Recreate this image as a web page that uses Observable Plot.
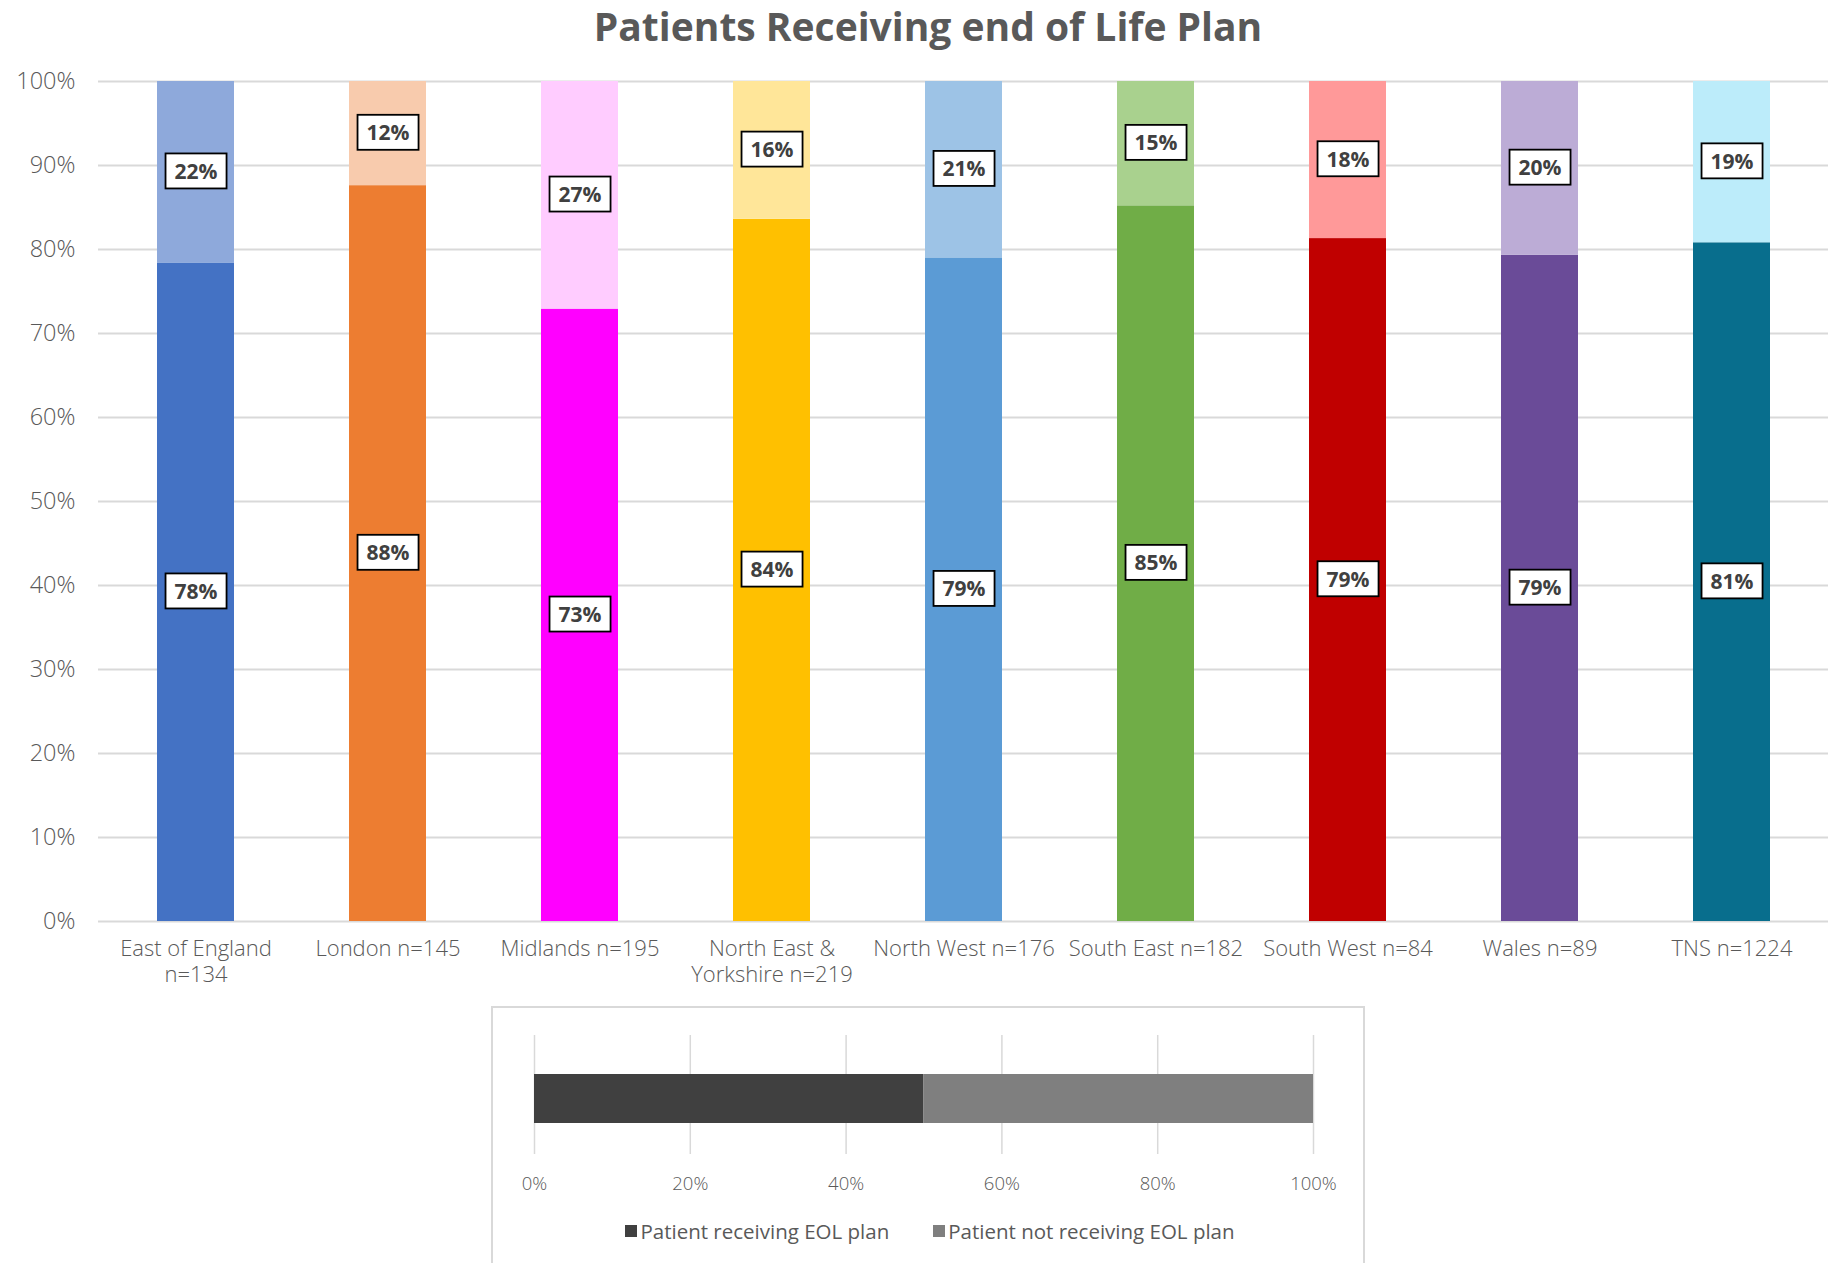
<!DOCTYPE html>
<html><head><meta charset="utf-8">
<script src="https://cdn.jsdelivr.net/npm/d3@7"></script>
<script src="https://cdn.jsdelivr.net/npm/@observablehq/plot@0.6"></script>
<style>
body{margin:0;background:#fff;width:1828px;height:1263px;overflow:hidden;position:relative;font-family:"Open Sans",sans-serif;}
#title{height:60px;line-height:52px;text-align:center;font-size:39px;font-weight:700;color:#595959;padding-left:28px;box-sizing:border-box;}
#main{height:940px;}
#panel{position:absolute;left:491px;top:1006px;width:874px;height:300px;border:2px solid #d9d9d9;box-sizing:border-box;}
#legend{display:flex;justify-content:center;gap:44px;margin-top:13px;font-size:20.5px;color:#595959;padding-left:4px;}
#legend .item{display:flex;align-items:center;}
#legend .sw{width:12px;height:12px;margin-right:3px;display:inline-block;}
</style></head><body>
<div id="title">Patients Receiving end of Life Plan</div>
<div id="main"></div>
<div id="panel"><div id="mini"></div><div id="legend"></div></div>
<script>
// ---- data ----
const xLabels = ["East of England\nn=134", "London n=145", "Midlands n=195", "North East &\nYorkshire n=219", "North West n=176", "South East n=182", "South West n=84", "Wales n=89", "TNS n=1224"];
const receiving = [78.4, 87.6, 72.9, 83.6, 79.0, 85.2, 81.3, 79.3, 80.8];
const notReceiving = [21.6, 12.4, 27.1, 16.4, 21.0, 14.8, 18.7, 20.7, 19.2];
const receivingText = ["78%", "88%", "73%", "84%", "79%", "85%", "79%", "79%", "81%"];
const notReceivingText = ["22%", "12%", "27%", "16%", "21%", "15%", "18%", "20%", "19%"];
const darkColors = ["#4472C4", "#ED7D31", "#FF00FF", "#FFC000", "#5B9BD5", "#70AD47", "#C00000", "#6A4B98", "#086E8D"];
const lightColors = ["#8EA9DB", "#F8CBAD", "#FFCCFF", "#FFE699", "#9DC3E6", "#A9D18E", "#FF9999", "#BCACD6", "#BCECFA"];
const yTicks = [0, 10, 20, 30, 40, 50, 60, 70, 80, 90, 100];

const legendKeys = ["Patient receiving EOL plan", "Patient not receiving EOL plan"];
const legendValues = [50, 50];
const legendColors = ["#404040", "#7F7F7F"];
const miniTicks = [0, 20, 40, 60, 80, 100];

// ---- main chart ----
const rows = xLabels.map((label, i) => ({
  label, rec: receiving[i], not: notReceiving[i],
  c1: darkColors[i], c2: lightColors[i],
  t1: receivingText[i], t2: notReceivingText[i]
}));

const main = Plot.plot({
  width: 1828, height: 940,
  marginTop: 21, marginBottom: 79, marginLeft: 98, marginRight: 0,
  style: {fontFamily: '"Open Sans", sans-serif', fontSize: "22px", color: "#595959", background: "#fff"},
  x: {domain: xLabels, paddingInner: 0.6, paddingOuter: 0.3, label: null},
  y: {domain: [0, 100], label: null},
  color: {type: "identity"},
  marks: [
    Plot.ruleY(yTicks, {stroke: "#d9d9d9", strokeWidth: 2}),
    Plot.barY(rows, {x: "label", y1: 0, y2: "rec", fill: "c1"}),
    Plot.barY(rows, {x: "label", y1: "rec", y2: d => d.rec + d.not, fill: "c2"}),
    Plot.axisY({ticks: yTicks, tickFormat: d => d + "%", tickSize: 0, tickPadding: 23, fontSize: 23.5, fontWeight: 300, label: null, fill: "#595959"}),
    Plot.axisX({tickSize: 0, tickPadding: 15, fontSize: 22, fontWeight: 300, lineHeight: 1.22, label: null, fill: "#595959"}),
    Plot.text(rows, {x: "label", y: d => d.rec / 2, text: "t1", fontSize: 21, fontWeight: "bold", fill: "#404040"}),
    Plot.text(rows, {x: "label", y: d => d.rec + d.not / 2, text: "t2", fontSize: 21, fontWeight: "bold", fill: "#404040"})
  ]
});
document.getElementById("main").appendChild(main);

// boxes behind the data labels
const textGroups = main.querySelectorAll('g[aria-label="text"]');
textGroups.forEach(g => {
  g.querySelectorAll("text").forEach(t => {
    const bb = t.getBBox();
    const cx = bb.x + bb.width / 2, cy = bb.y + bb.height / 2;
    const w = bb.width + 18, h = 35;
    const r = document.createElementNS("http://www.w3.org/2000/svg", "rect");
    r.setAttribute("x", cx - w / 2);
    r.setAttribute("y", cy - h / 2);
    r.setAttribute("width", w);
    r.setAttribute("height", h);
    r.setAttribute("fill", "#fff");
    r.setAttribute("stroke", "#000");
    r.setAttribute("stroke-width", "1.8");
    if (t.getAttribute("transform")) r.setAttribute("transform", t.getAttribute("transform"));
    g.insertBefore(r, t);
  });
});

// ---- mini chart in panel ----
const miniRows = legendKeys.map((k, i) => ({k, v: legendValues[i], c: legendColors[i]}));
const mini = Plot.plot({
  width: 870, height: 196,
  marginTop: 27, marginBottom: 50, marginLeft: 41, marginRight: 50,
  style: {fontFamily: '"Open Sans", sans-serif', fontSize: "18px", color: "#595959", background: "#fff"},
  x: {domain: [0, 100], label: null},
  color: {type: "identity"},
  marks: [
    Plot.ruleX(miniTicks, {stroke: "#d9d9d9", strokeWidth: 1.5}),
    Plot.barX(miniRows, Plot.stackX({x: "v", fill: "c", insetTop: 39, insetBottom: 31})),
    Plot.axisX({ticks: miniTicks, tickFormat: d => d + "%", tickSize: 0, tickPadding: 22, fontSize: 18.5, fontWeight: 300, label: null, fill: "#595959"})
  ]
});
document.getElementById("mini").appendChild(mini);

const leg = d3.select("#legend");
legendKeys.forEach((k, i) => {
  const it = leg.append("div").attr("class", "item");
  it.append("span").attr("class", "sw").style("background", legendColors[i]);
  it.append("span").text(k);
});
</script>
</body></html>
